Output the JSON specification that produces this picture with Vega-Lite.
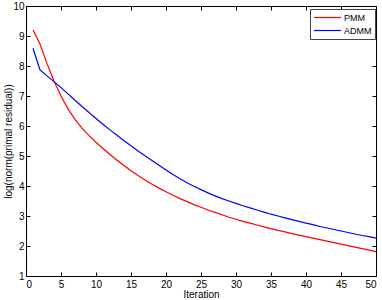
{
  "$schema": "https://vega.github.io/schema/vega-lite/v6.json",
  "width": 350,
  "height": 270,
  "autosize": {"type": "none"},
  "padding": {"left": 26, "top": 6, "right": 6, "bottom": 24},
  "background": "white",
  "config": {
    "view": {"stroke": "black", "strokeWidth": 1},
    "font": "Liberation Sans",
    "axis": {"grid": false, "domainColor": "black", "tickColor": "black", "labelColor": "black", "titleColor": "black", "labelFontSize": 10, "titleFontSize": 10, "titleFontWeight": "normal", "tickSize": -4, "domainWidth": 1}
  },
  "data": {"values": [
    {"it":1,"s":"PMM","v":9.20},{"it":2,"s":"PMM","v":8.73},{"it":3,"s":"PMM","v":8.08},{"it":4,"s":"PMM","v":7.50},{"it":5,"s":"PMM","v":7.00},
    {"it":6,"s":"PMM","v":6.57},{"it":7,"s":"PMM","v":6.22},{"it":8,"s":"PMM","v":5.93},{"it":9,"s":"PMM","v":5.68},{"it":10,"s":"PMM","v":5.46},
    {"it":11,"s":"PMM","v":5.25},{"it":12,"s":"PMM","v":5.05},{"it":13,"s":"PMM","v":4.86},{"it":14,"s":"PMM","v":4.68},{"it":15,"s":"PMM","v":4.51},
    {"it":16,"s":"PMM","v":4.35},{"it":17,"s":"PMM","v":4.20},{"it":18,"s":"PMM","v":4.06},{"it":19,"s":"PMM","v":3.93},{"it":20,"s":"PMM","v":3.81},
    {"it":21,"s":"PMM","v":3.69},{"it":22,"s":"PMM","v":3.58},{"it":23,"s":"PMM","v":3.48},{"it":24,"s":"PMM","v":3.38},{"it":25,"s":"PMM","v":3.29},
    {"it":26,"s":"PMM","v":3.20},{"it":27,"s":"PMM","v":3.12},{"it":28,"s":"PMM","v":3.04},{"it":29,"s":"PMM","v":2.96},{"it":30,"s":"PMM","v":2.89},
    {"it":31,"s":"PMM","v":2.82},{"it":32,"s":"PMM","v":2.76},{"it":33,"s":"PMM","v":2.70},{"it":34,"s":"PMM","v":2.64},{"it":35,"s":"PMM","v":2.58},
    {"it":36,"s":"PMM","v":2.52},{"it":37,"s":"PMM","v":2.47},{"it":38,"s":"PMM","v":2.41},{"it":39,"s":"PMM","v":2.36},{"it":40,"s":"PMM","v":2.31},
    {"it":41,"s":"PMM","v":2.26},{"it":42,"s":"PMM","v":2.21},{"it":43,"s":"PMM","v":2.16},{"it":44,"s":"PMM","v":2.11},{"it":45,"s":"PMM","v":2.06},
    {"it":46,"s":"PMM","v":2.01},{"it":47,"s":"PMM","v":1.96},{"it":48,"s":"PMM","v":1.91},{"it":49,"s":"PMM","v":1.86},{"it":50,"s":"PMM","v":1.81},
    {"it":1,"s":"ADMM","v":8.59},{"it":2,"s":"ADMM","v":7.87},{"it":3,"s":"ADMM","v":7.67},{"it":4,"s":"ADMM","v":7.48},{"it":5,"s":"ADMM","v":7.28},
    {"it":6,"s":"ADMM","v":7.07},{"it":7,"s":"ADMM","v":6.86},{"it":8,"s":"ADMM","v":6.65},{"it":9,"s":"ADMM","v":6.45},{"it":10,"s":"ADMM","v":6.25},
    {"it":11,"s":"ADMM","v":6.06},{"it":12,"s":"ADMM","v":5.87},{"it":13,"s":"ADMM","v":5.69},{"it":14,"s":"ADMM","v":5.51},{"it":15,"s":"ADMM","v":5.34},
    {"it":16,"s":"ADMM","v":5.17},{"it":17,"s":"ADMM","v":5.01},{"it":18,"s":"ADMM","v":4.85},{"it":19,"s":"ADMM","v":4.69},{"it":20,"s":"ADMM","v":4.53},
    {"it":21,"s":"ADMM","v":4.38},{"it":22,"s":"ADMM","v":4.24},{"it":23,"s":"ADMM","v":4.11},{"it":24,"s":"ADMM","v":3.99},{"it":25,"s":"ADMM","v":3.88},
    {"it":26,"s":"ADMM","v":3.77},{"it":27,"s":"ADMM","v":3.67},{"it":28,"s":"ADMM","v":3.58},{"it":29,"s":"ADMM","v":3.50},{"it":30,"s":"ADMM","v":3.42},
    {"it":31,"s":"ADMM","v":3.34},{"it":32,"s":"ADMM","v":3.27},{"it":33,"s":"ADMM","v":3.20},{"it":34,"s":"ADMM","v":3.13},{"it":35,"s":"ADMM","v":3.06},
    {"it":36,"s":"ADMM","v":3.00},{"it":37,"s":"ADMM","v":2.94},{"it":38,"s":"ADMM","v":2.88},{"it":39,"s":"ADMM","v":2.82},{"it":40,"s":"ADMM","v":2.76},
    {"it":41,"s":"ADMM","v":2.71},{"it":42,"s":"ADMM","v":2.65},{"it":43,"s":"ADMM","v":2.60},{"it":44,"s":"ADMM","v":2.55},{"it":45,"s":"ADMM","v":2.50},
    {"it":46,"s":"ADMM","v":2.45},{"it":47,"s":"ADMM","v":2.40},{"it":48,"s":"ADMM","v":2.35},{"it":49,"s":"ADMM","v":2.31},{"it":50,"s":"ADMM","v":2.26}
  ]},
  "layer": [
    {
      "mark": {"type": "line", "strokeWidth": 1.2},
      "encoding": {
        "x": {"field": "it", "type": "quantitative", "scale": {"domain": [0, 50], "nice": false}, "title": "Iteration",
              "axis": {"orient": "bottom", "values": [0,5,10,15,20,25,30,35,40,45,50], "labelPadding": 7, "titlePadding": 0}},
        "y": {"field": "v", "type": "quantitative", "scale": {"domain": [1, 10], "nice": false, "zero": false}, "title": "log(norm(primal residual))",
              "axis": {"orient": "left", "values": [1,2,3,4,5,6,7,8,9,10], "labelPadding": 6, "titlePadding": -1}},
        "color": {"field": "s", "type": "nominal", "scale": {"domain": ["PMM", "ADMM"], "range": ["#ff0000", "#0000ff"]},
                  "legend": {"title": null, "orient": "none", "legendX": 284, "legendY": 3, "symbolType": "M-1,0H5", "symbolSize": 81, "symbolStrokeWidth": 1.2,
                             "labelFontSize": 9, "labelColor": "black", "strokeColor": "#444444", "fillColor": "white", "padding": 3, "rowPadding": 2, "labelOffset": 20}}
      }
    },
    {
      "mark": {"type": "line", "opacity": 0},
      "encoding": {
        "x": {"field": "it", "type": "quantitative", "scale": {"domain": [0, 50], "nice": false},
              "axis": {"orient": "top", "values": [0,5,10,15,20,25,30,35,40,45,50], "labels": false, "title": null}},
        "y": {"field": "v", "type": "quantitative", "scale": {"domain": [1, 10], "nice": false, "zero": false},
              "axis": {"orient": "right", "values": [1,2,3,4,5,6,7,8,9,10], "labels": false, "title": null}},
        "detail": {"field": "s"}
      }
    }
  ],
  "resolve": {"axis": {"x": "independent", "y": "independent"}}
}
